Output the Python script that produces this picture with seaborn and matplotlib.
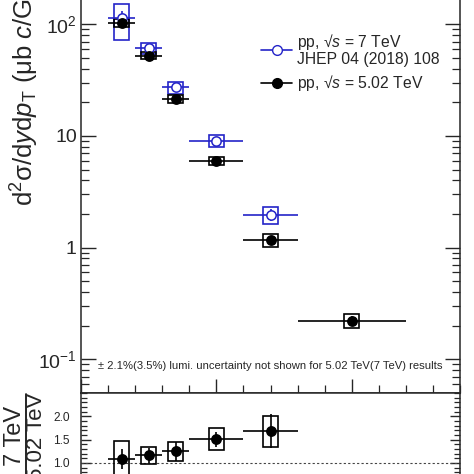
import numpy as np
import pandas as pd
import matplotlib
matplotlib.use("Agg")
import matplotlib.pyplot as plt
from matplotlib.patches import Rectangle
from matplotlib.lines import Line2D
from matplotlib.ticker import FixedLocator, MultipleLocator, LogLocator, NullFormatter, FuncFormatter
import seaborn as sns

# pT bins (GeV/c)
pt_502 = [1.5, 2.5, 3.5, 5.0, 7.0, 10.0]
pt_lo_502 = [1.0, 2.0, 3.0, 4.0, 6.0, 8.0]
pt_hi_502 = [2.0, 3.0, 4.0, 6.0, 8.0, 12.0]

# pp 5.02 TeV cross section (ub c/GeV)
xsec_502 = [103.0, 52.5, 21.6, 6.0, 1.17, 0.222]
stat_502 = [8.0, 3.0, 1.2, 0.35, 0.08, 0.02]
syst_502 = [7.5, 4.0, 1.75, 0.45, 0.16, 0.033]

# pp 7 TeV cross section, JHEP 04 (2018) 108
pt_7 = [1.5, 2.5, 3.5, 5.0, 7.0]
pt_lo_7 = [1.0, 2.0, 3.0, 4.0, 6.0]
pt_hi_7 = [2.0, 3.0, 4.0, 6.0, 8.0]
xsec_7 = [113.0, 61.0, 27.3, 9.0, 1.97]
stat_7 = [18.0, 5.0, 2.0, 0.6, 0.25]
syst_7 = [40.0, 6.3, 3.3, 1.1, 0.33]

# ratio 7 TeV / 5.02 TeV
ratio = [1.08, 1.16, 1.25, 1.51, 1.68]
ratio_stat = [0.22, 0.17, 0.20, 0.16, 0.37]
ratio_syst = [0.40, 0.19, 0.20, 0.24, 0.33]

BLUE = "#2424c8"
BOX_W = 0.55

sns.set_style("ticks")
plt.rcParams["font.family"] = ["Liberation Sans", "DejaVu Sans"]
plt.rcParams["mathtext.fontset"] = "custom"
plt.rcParams["mathtext.rm"] = "Liberation Sans"
plt.rcParams["mathtext.it"] = "Liberation Sans:italic"
plt.rcParams["mathtext.bf"] = "Liberation Sans:bold"

fig = plt.figure(figsize=(4.74, 4.74), dpi=100)
ax = fig.add_axes([0.1709, 0.1709, 0.7996, 0.9426])
rax = fig.add_axes([0.1709, -0.0357, 0.7996, 0.2066])


def draw_set(axis, x, lo, hi, y, stat, syst, color, filled):
    x = np.asarray(x); y = np.asarray(y)
    syst = np.asarray(syst)
    for xi, yi, si in zip(x, y, syst):
        axis.add_patch(Rectangle((xi - BOX_W / 2, yi - si), BOX_W, 2 * si,
                                 fill=False, edgecolor=color, lw=1.2, zorder=2))
    xerr = [x - np.asarray(lo), np.asarray(hi) - x]
    axis.errorbar(x, y, xerr=xerr, yerr=stat, fmt="none", ecolor=color,
                  elinewidth=1.2, capsize=0, zorder=3)
    df = pd.DataFrame({"x": x, "y": y})
    sns.scatterplot(data=df, x="x", y="y", ax=axis, s=45, marker="o",
                    facecolor=color if filled else "white", edgecolor=color,
                    linewidth=1.1, zorder=4, legend=False)


draw_set(ax, pt_7, pt_lo_7, pt_hi_7, xsec_7, stat_7, syst_7, BLUE, False)
draw_set(ax, pt_502, pt_lo_502, pt_hi_502, xsec_502, stat_502, syst_502, "black", True)

ax.set_yscale("log")
ax.set_ylim(0.05, 500)
ax.set_xlim(0, 14)
ax.set_xlabel("")
ax.set_ylabel("")


def log_fmt(v, pos):
    labels = {100: r"$10^{2}$", 10: "10", 1: "1", 0.1: r"$10^{-1}$"}
    for k, s in labels.items():
        if np.isclose(v, k):
            return s
    return ""


ax.yaxis.set_major_locator(FixedLocator([0.1, 1, 10, 100]))
ax.yaxis.set_major_formatter(FuncFormatter(log_fmt))
ax.yaxis.set_minor_locator(LogLocator(base=10, subs=np.arange(2, 10)))
ax.yaxis.set_minor_formatter(NullFormatter())
ax.xaxis.set_major_locator(MultipleLocator(5))
ax.xaxis.set_minor_locator(MultipleLocator(1))
ax.tick_params(axis="x", which="both", labelbottom=False, direction="in", top=False)
ax.tick_params(axis="y", which="both", direction="in", right=True, labelsize=14, pad=3)
ax.tick_params(which="major", length=11, width=1.0)
ax.tick_params(which="minor", length=6, width=0.9)
ax.tick_params(axis="x", which="major", length=10)
for s in ax.spines.values():
    s.set_linewidth(1.1)

fig.text(41 / 474, 1 - 206 / 474,
         r"d$^{2}$σ/d$y$d$p_{\mathrm{T}}$ (μb $c$/GeV)",
         rotation=90, ha="right", va="bottom", fontsize=18.5)

fig.text(270 / 474, 1 - 366 / 474,
         "± 2.1%(3.5%) lumi. uncertainty not shown for 5.02 TeV(7 TeV) results",
         ha="center", va="center", fontsize=8.1)

handles = [
    Line2D([], [], color=BLUE, marker="o", markerfacecolor="white",
           markeredgecolor=BLUE, markersize=7, lw=1.2),
    Line2D([], [], color="black", marker="o", markerfacecolor="black",
           markersize=7, lw=1.2),
]
labels = ["pp, √$s$ = 7 TeV\nJHEP 04 (2018) 108", "pp, √$s$ = 5.02 TeV"]
leg = fig.legend(handles, labels, loc="upper left",
                 bbox_to_anchor=(253 / 474, 1 - 24 / 474), frameon=False,
                 fontsize=11.3, handlelength=2.0, handletextpad=0.3,
                 borderpad=0, labelspacing=0.4)
leg.get_texts()[0].set_linespacing(1.0)

# ratio panel
draw_set(rax, pt_7, pt_lo_7, pt_hi_7, ratio, ratio_stat, ratio_syst, "black", True)
rax.axhline(1.0, color="#444444", ls=(0, (2, 2)), lw=0.8, zorder=1)
rax.set_xlim(0, 14)
rax.set_ylim(0.4, 2.5)
rax.set_xlabel("")
rax.set_ylabel("")
rax.yaxis.set_major_locator(FixedLocator([0.5, 1.0, 1.5, 2.0]))
rax.yaxis.set_major_formatter(FuncFormatter(lambda v, p: f"{v:.1f}"))
rax.yaxis.set_minor_locator(MultipleLocator(0.1))
rax.xaxis.set_major_locator(MultipleLocator(5))
rax.xaxis.set_minor_locator(MultipleLocator(1))
rax.tick_params(axis="x", which="both", top=False, direction="in", labelbottom=False)
rax.tick_params(axis="y", which="both", direction="in", right=True, labelsize=8.6, pad=8)
rax.tick_params(axis="y", which="major", length=7, width=1.0)
rax.tick_params(axis="y", which="minor", length=4, width=0.9)
for s in rax.spines.values():
    s.set_linewidth(1.1)

# ratio title as a stacked fraction
yc = 1 - 436 / 474
fig.text(15 / 474, yc, "7 TeV", rotation=90, ha="center", va="center", fontsize=17)
fig.text(36 / 474, yc, "5.02 TeV", rotation=90, ha="center", va="center", fontsize=16)
fig.add_artist(Line2D([25.5 / 474, 25.5 / 474], [yc - 42 / 474, yc + 42 / 474],
                      color="black", lw=1.2, transform=fig.transFigure))

fig.savefig("out.png", dpi=100)
